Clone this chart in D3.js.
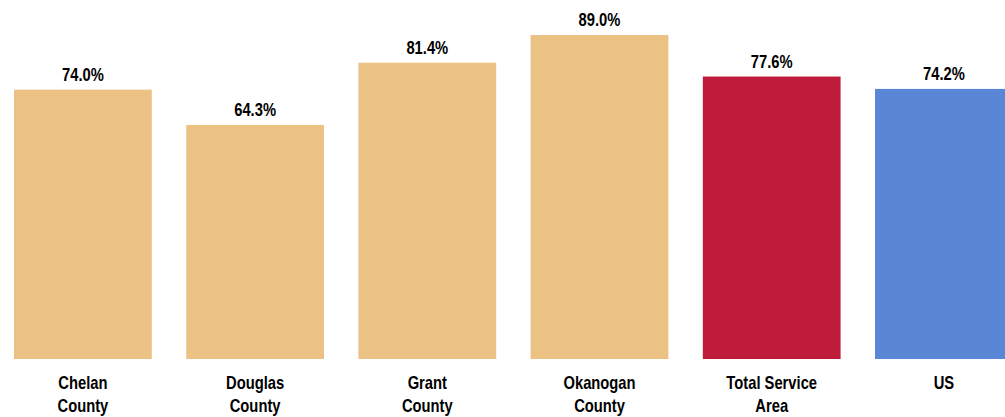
<!DOCTYPE html>
<html>
<head>
<meta charset="utf-8">
<script src="https://cdn.jsdelivr.net/npm/d3@7"></script>
<style>
  html, body { margin: 0; padding: 0; background: #fff; overflow: hidden; }
  svg { display: block; }
  text { font-family: "Liberation Sans", Arial, sans-serif; font-weight: bold; fill: #000; }
</style>
</head>
<body>
<svg id="chart" width="1005" height="417"></svg>
<script>
const categories = [["Chelan", "County"], ["Douglas", "County"], ["Grant", "County"], ["Okanogan", "County"], ["Total Service", "Area"], ["US"]];
const values = [74.0, 64.3, 81.4, 89.0, 77.6, 74.2];
const colors = ["#ECC184", "#ECC184", "#ECC184", "#ECC184", "#BE1C3A", "#5A86D6"];

const svg = d3.select("#chart");
const keys = categories.map(c => c.join(" "));
const narrow = 0.82;

const x = d3.scaleBand().domain(keys).range([-3.2, 1030]).paddingInner(0.2).paddingOuter(0.1);
const y = d3.scaleLinear().domain([0, 100]).range([359, -5]);

const g = svg.append("g");

g.selectAll("rect.bar").data(values).join("rect")
  .attr("class", "bar")
  .attr("x", (d, i) => x(keys[i]))
  .attr("y", d => y(d))
  .attr("width", x.bandwidth())
  .attr("height", d => y(0) - y(d))
  .attr("fill", (d, i) => colors[i]);

g.selectAll("text.val").data(values).join("text")
  .attr("class", "val")
  .attr("transform", (d, i) => `translate(${x(keys[i]) + x.bandwidth() / 2},${y(d) - 9}) scale(${narrow},1)`)
  .attr("text-anchor", "middle")
  .style("font-size", "18px")
  .text(d => d.toFixed(1) + "%");

const labels = g.selectAll("text.cat").data(categories).join("text")
  .attr("class", "cat")
  .attr("transform", (d, i) => `translate(${x(keys[i]) + x.bandwidth() / 2},389) scale(${narrow},1)`)
  .attr("text-anchor", "middle")
  .style("font-size", "18px");
labels.selectAll("tspan").data(d => d).join("tspan")
  .attr("x", 0)
  .attr("dy", (d, i) => i === 0 ? 0 : 23)
  .text(d => d);
</script>
</body>
</html>
